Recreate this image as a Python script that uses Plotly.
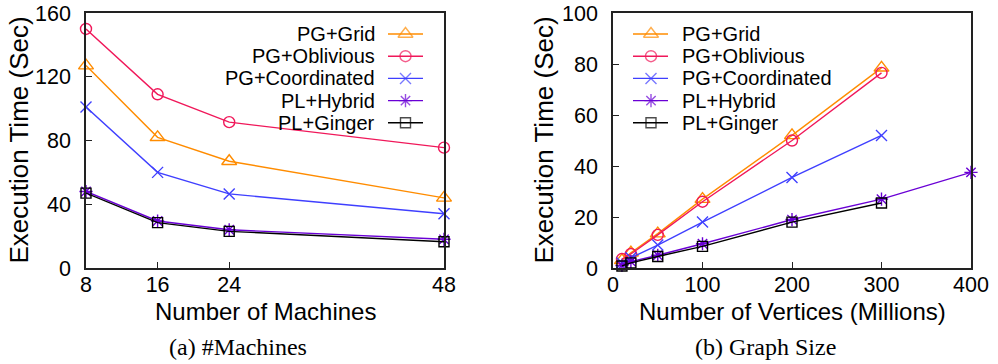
import plotly.graph_objects as go

# ---------------- data ----------------
series_names = ["PG+Grid", "PG+Oblivious", "PG+Coordinated", "PL+Hybrid", "PL+Ginger"]

machines = [8, 16, 24, 48]
grid_m = [127, 82, 67, 44]
obl_m = [150, 109, 91.5, 75.5]
coord_m = [101, 60, 46.5, 34]
hybrid_m = [48, 29.5, 24, 18]
ginger_m = [47, 28.5, 23, 16.5]

vertices = [10, 20, 50, 100, 200, 300]
vertices_h = [10, 20, 50, 100, 200, 300, 400]
grid_v = [3, 6, 13.5, 27, 52, 78.5]
obl_v = [3.5, 5.5, 13, 26, 50, 76.5]
coord_v = [2, 4, 9, 18, 35.5, 52]
hybrid_v = [1, 2.5, 5, 9.5, 19, 27, 37.5]
ginger_v = [0.8, 2, 4.5, 8.5, 18, 25.5]

m_ticks = [8, 16, 24, 48]
m_yticks = [0, 40, 80, 120, 160]
v_ticks = [0, 100, 200, 300, 400]
v_yticks = [0, 20, 40, 60, 80, 100]

# ---------------- styles ----------------
colors = ["#ff8c00", "#f0185a", "#3f3fff", "#6a00d5", "#000000"]
symbols = ["triangle-up-open", "circle-open", "x-thin-open", "asterisk-open", "square-open"]
sizes = [13, 11, 11, 11, 10]

W, H = 998, 364
L = dict(x0=86, x1=444)
R = dict(x0=613, x1=971)
YT, YB = 13, 268

def px_x(p):
    return p / W

def px_y(p):
    return (H - p) / H

SANS = "Liberation Sans, Arial, sans-serif"
SERIF = "Liberation Serif, Times New Roman, serif"

fig = go.Figure()

left_data = [grid_m, obl_m, coord_m, hybrid_m, ginger_m]
right_data = [(vertices, grid_v), (vertices, obl_v), (vertices, coord_v),
              (vertices_h, hybrid_v), (vertices, ginger_v)]

for i, name in enumerate(series_names):
    fig.add_trace(go.Scatter(
        x=machines, y=left_data[i], mode="lines+markers", name=name,
        xaxis="x", yaxis="y", showlegend=False, cliponaxis=False,
        line=dict(color=colors[i], width=1.4),
        marker=dict(symbol=symbols[i], size=sizes[i], color=colors[i],
                    line=dict(color=colors[i], width=1.4)),
    ))
for i, name in enumerate(series_names):
    xs, ys = right_data[i]
    fig.add_trace(go.Scatter(
        x=xs, y=ys, mode="lines+markers", name=name,
        xaxis="x2", yaxis="y2", showlegend=False, cliponaxis=False,
        line=dict(color=colors[i], width=1.4),
        marker=dict(symbol=symbols[i], size=sizes[i], color=colors[i],
                    line=dict(color=colors[i], width=1.4)),
    ))

# ---------------- custom legends (gnuplot style) ----------------
row_y = [34 + 22.2 * k for k in range(5)]
annotations = []
for i, name in enumerate(series_names):
    y = row_y[i]
    fig.add_trace(go.Scatter(
        x=[388, 405.5, 423], y=[y, y, y], mode="lines+markers",
        xaxis="x3", yaxis="y3", showlegend=False, hoverinfo="skip",
        line=dict(color=colors[i], width=1.4),
        marker=dict(symbol=symbols[i], size=[0, sizes[i], 0], color=colors[i],
                    line=dict(color=colors[i], width=1.4)),
    ))
    annotations.append(dict(x=377, y=y, xref="x3", yref="y3", text=name,
                            showarrow=False, xanchor="right", yanchor="middle",
                            font=dict(family=SANS, size=20, color="black")))
    fig.add_trace(go.Scatter(
        x=[633, 651, 668], y=[y, y, y], mode="lines+markers",
        xaxis="x3", yaxis="y3", showlegend=False, hoverinfo="skip",
        line=dict(color=colors[i], width=1.4),
        marker=dict(symbol=symbols[i], size=[0, sizes[i], 0], color=colors[i],
                    line=dict(color=colors[i], width=1.4)),
    ))
    annotations.append(dict(x=680, y=y, xref="x3", yref="y3", text=name,
                            showarrow=False, xanchor="left", yanchor="middle",
                            font=dict(family=SANS, size=20, color="black")))

annotations += [
    dict(x=px_x(18), y=px_y((YT + YB) / 2), xref="paper", yref="paper",
         text="Execution Time (Sec)", textangle=-90, showarrow=False,
         xanchor="center", yanchor="middle", font=dict(family=SANS, size=26, color="black")),
    dict(x=px_x(543), y=px_y((YT + YB) / 2), xref="paper", yref="paper",
         text="Execution Time (Sec)", textangle=-90, showarrow=False,
         xanchor="center", yanchor="middle", font=dict(family=SANS, size=26, color="black")),
    dict(x=px_x((L["x0"] + L["x1"]) / 2), y=px_y(311), xref="paper", yref="paper",
         text="Number of Machines", showarrow=False,
         xanchor="center", yanchor="middle", font=dict(family=SANS, size=24, color="black")),
    dict(x=px_x((R["x0"] + R["x1"]) / 2), y=px_y(311), xref="paper", yref="paper",
         text="Number of Vertices (Millions)", showarrow=False,
         xanchor="center", yanchor="middle", font=dict(family=SANS, size=24, color="black")),
    dict(x=px_x(238), y=px_y(347), xref="paper", yref="paper",
         text="(a) #Machines", showarrow=False,
         xanchor="center", yanchor="middle", font=dict(family=SERIF, size=24, color="black")),
    dict(x=px_x(765), y=px_y(347), xref="paper", yref="paper",
         text="(b) Graph Size", showarrow=False,
         xanchor="center", yanchor="middle", font=dict(family=SERIF, size=24, color="black")),
]

axis_common = dict(
    showgrid=False, zeroline=False, showline=True, linecolor="#222222", linewidth=1.5,
    mirror=True, ticks="inside", ticklen=6, tickwidth=1, tickcolor="#222222",
    automargin=False,
    tickfont=dict(family=SANS, size=21.5, color="black"),
)

fig.update_layout(
    width=W, height=H, autosize=False,
    margin=dict(l=0, r=0, t=0, b=0, pad=0, autoexpand=False),
    paper_bgcolor="white", plot_bgcolor="rgba(0,0,0,0)",
    xaxis=dict(domain=[px_x(L["x0"]), px_x(L["x1"])], range=[8, 48],
               tickvals=m_ticks, ticktext=[str(t) for t in m_ticks],
               anchor="y", ticklabelstandoff=-4, **axis_common),
    yaxis=dict(domain=[px_y(YB), px_y(YT)], range=[0, 160],
               tickvals=m_yticks, anchor="x", ticklabelstandoff=9, **axis_common),
    xaxis2=dict(domain=[px_x(R["x0"]), px_x(R["x1"])], range=[0, 400],
                tickvals=v_ticks, anchor="y2", ticklabelstandoff=-4, **axis_common),
    yaxis2=dict(domain=[px_y(YB), px_y(YT)], range=[0, 100],
                tickvals=v_yticks, anchor="x2", ticklabelstandoff=9, **axis_common),
    xaxis3=dict(domain=[0, 1], range=[0, W], visible=False, fixedrange=True, anchor="y3", automargin=False),
    yaxis3=dict(domain=[0, 1], range=[H, 0], visible=False, fixedrange=True, anchor="x3", automargin=False),
    annotations=annotations,
    showlegend=False,
)

fig.write_html("out.html")
